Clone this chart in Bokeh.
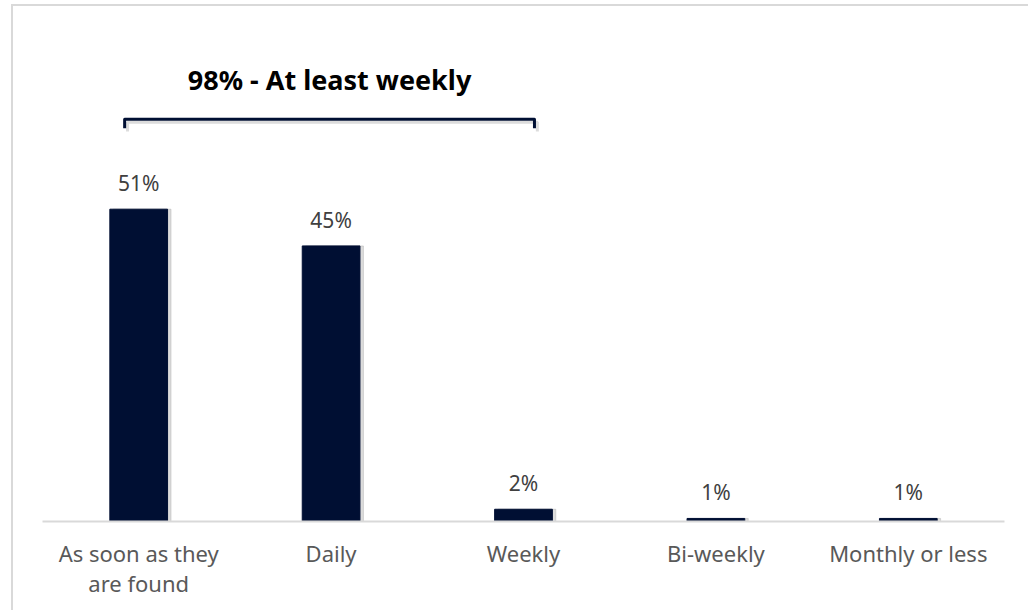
from bokeh.plotting import figure
from bokeh.models import ColumnDataSource, Range1d, FactorRange, GlobalInlineStyleSheet
from bokeh.transform import dodge
from bokeh.core.properties import value
from bokeh.embed import file_html
from bokeh.resources import INLINE

categories = ["As soon as they\nare found", "Daily", "Weekly", "Bi-weekly", "Monthly or less"]
values = [51, 45, 2, 0.5, 0.5]
labels = ["51%", "45%", "2%", "1%", "1%"]
bracket_title = "98% - At least weekly"

FONT = "Noto Sans"
NAVY = "#000f33"

src = ColumnDataSource(dict(cat=categories, val=values, lab=labels))

p = figure(width=1040, height=620, output_backend="svg", toolbar_location=None,
           x_range=FactorRange(*categories, range_padding=0),
           y_range=Range1d(0, 84.1),
           min_border_left=29, min_border_right=49, min_border_top=0, min_border_bottom=105)
p.margin = (4, 0, 0, 11)
p.styles = {"border-left": "2px solid #d9d9d9", "border-top": "2px solid #d9d9d9"}
p.stylesheets = [GlobalInlineStyleSheet(css="html, body { overflow: hidden; margin: 0; }")]
p.outline_line_color = None
p.grid.grid_line_color = None
p.yaxis.visible = False
p.background_fill_color = "white"
p.border_fill_color = "white"

# shadows
p.vbar(x=dodge("cat", 0.018, range=p.x_range), top="val", width=0.3, source=src,
       color="#9a9a9a", alpha=0.35)
p.vbar(x="cat", top="val", width=0.3, source=src, color=NAVY)

p.text(x="cat", y="val", text="lab", source=src, y_offset=-12,
       text_align="center", text_baseline="bottom",
       text_font=value(FONT), text_font_size="21px", text_color="#404040")

# bracket
bx0, bx1, by, bdrop = 0.427, 2.557, 65.7, 64.2
p.line(x=[bx0 + 0.015, bx0 + 0.015, bx1 + 0.015, bx1 + 0.015],
       y=[bdrop - 0.5, by - 0.5, by - 0.5, bdrop - 0.5], line_color="#9a9a9a", line_alpha=0.35, line_width=3)
p.line(x=[bx0, bx0, bx1, bx1], y=[bdrop, by, by, bdrop], line_color=NAVY, line_width=3,
       line_join="round")
p.text(x=[(bx0 + bx1) / 2], y=[72.1], text=[bracket_title],
       text_align="center", text_baseline="middle",
       text_font=value(FONT), text_font_size="27px", text_font_style="bold", text_color="#000000")

ax = p.xaxis[0]
ax.axis_line_color = "#d9d9d9"
ax.axis_line_width = 2
ax.major_tick_line_color = None
ax.minor_tick_line_color = None
ax.major_label_standoff = 10
ax.major_label_text_font = FONT
ax.major_label_text_font_size = "22px"
ax.major_label_text_color = "#595959"
ax.major_label_text_line_height = 1.0

open("out.html", "w").write(file_html(p, INLINE))
